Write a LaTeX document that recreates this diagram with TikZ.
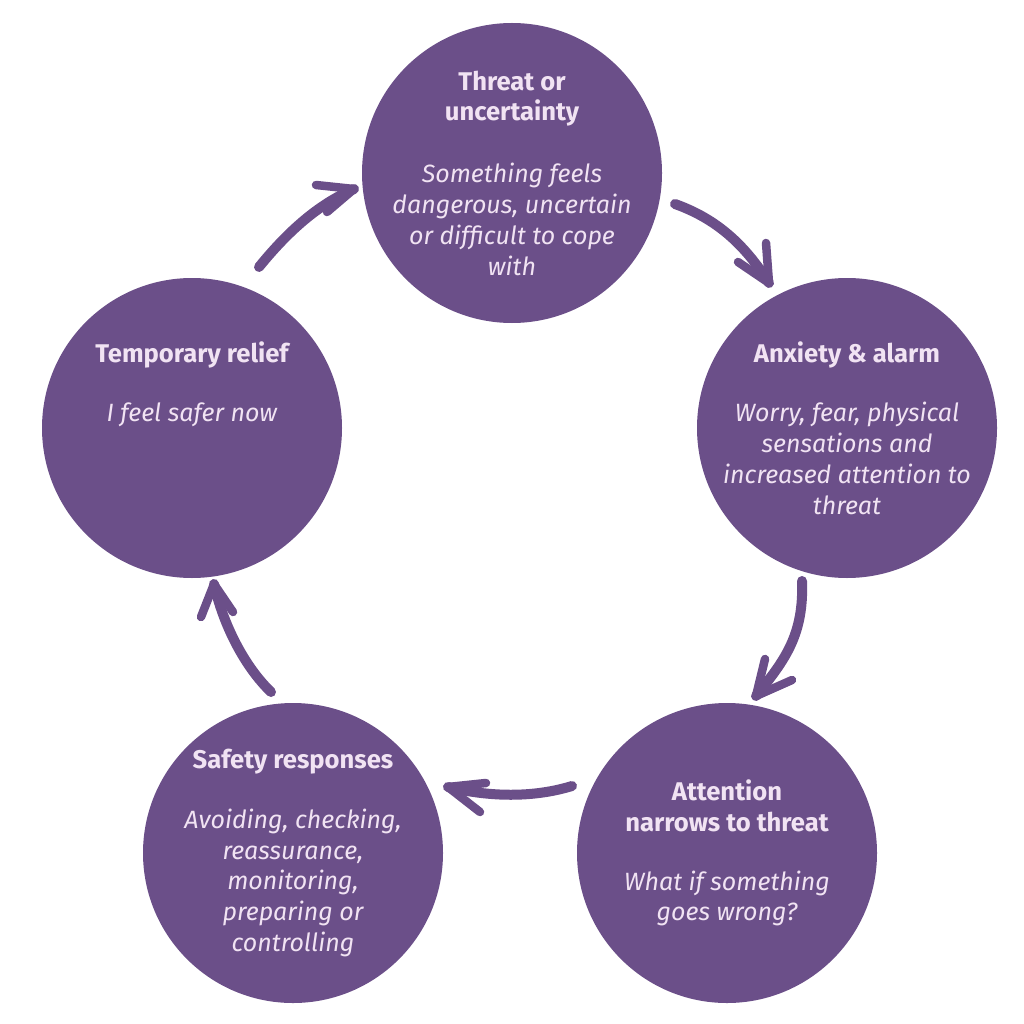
\documentclass[tikz,border=0pt]{standalone}
\usepackage{fontspec}
\setmainfont{Fira Sans}
\definecolor{cyc}{HTML}{6B4F89}
\definecolor{txt}{HTML}{F1E3F3}
\newcommand{\ttl}[1]{{\fontsize{25.6}{30.8}\selectfont\upshape\bfseries #1}}
\begin{document}
\begin{tikzpicture}[x=1pt,y=-1pt,
  stage/.style={circle,fill=cyc,draw=none,minimum size=300pt,inner sep=0pt},
  label/.style={text=txt,align=center,font=\fontsize{25}{30.8}\selectfont\itshape,inner sep=0pt},
  shaft/.style={draw=cyc,line width=10pt,line cap=round},
  barb/.style={draw=cyc,line width=8.5pt,line cap=round,line join=round}]
\useasboundingbox (0,0) rectangle (1024,1024);
\node[stage] (c1) at (512,173) {};
\node[stage] (c2) at (847,428) {};
\node[stage] (c3) at (727,853) {};
\node[stage] (c4) at (293,853) {};
\node[stage] (c5) at (192,428) {};
\node[label] (t1) at (512,173) {\ttl{Threat or}\\\ttl{uncertainty}\\[31pt]Something feels\\dangerous, uncertain\\or difficult to cope\\with};
\node[label] (t2) at (847,428) {\ttl{Anxiety \& alarm}\\[29pt]Worry, fear, physical\\sensations and\\increased attention to\\threat};
\node[label] (t3) at (727,853) {\ttl{Attention}\\\ttl{narrows to threat}\\[28pt]What if something\\goes wrong?};
\node[label] (t4) at (293,853) {\ttl{Safety responses}\\[29pt]Avoiding, checking,\\reassurance,\\monitoring,\\preparing or\\controlling};
\node[label] (t5) at (192,384) {\ttl{Temporary relief}\\[28pt]I feel safer now};
% arrow 1
\coordinate (a1s) at (675,204); \coordinate (a1p) at (717,219); \coordinate (a1q) at (745,245); \coordinate (a1t) at (769,283);
\coordinate (a1l) at (766,243); \coordinate (a1r) at (738,262);
\draw[shaft] (a1s) .. controls (a1p) and (a1q) .. (a1t);
\draw[barb] (a1l) -- (a1t) -- (a1r);
% arrow 2
\coordinate (a2s) at (802,581); \coordinate (a2p) at (804,635); \coordinate (a2q) at (785,660); \coordinate (a2t) at (756,696);
\coordinate (a2l) at (765,659); \coordinate (a2r) at (792,680);
\draw[shaft] (a2s) .. controls (a2p) and (a2q) .. (a2t);
\draw[barb] (a2l) -- (a2t) -- (a2r);
% arrow 3
\coordinate (a3s) at (572,786); \coordinate (a3p) at (533,798); \coordinate (a3q) at (489,797); \coordinate (a3t) at (448,787);
\coordinate (a3l) at (486,783); \coordinate (a3r) at (480,812);
\draw[shaft] (a3s) .. controls (a3p) and (a3q) .. (a3t);
\draw[barb] (a3l) -- (a3t) -- (a3r);
% arrow 4
\coordinate (a4s) at (271,692); \coordinate (a4p) at (244,666); \coordinate (a4q) at (223,624); \coordinate (a4t) at (214,584);
\coordinate (a4l) at (201,617); \coordinate (a4r) at (233,612);
\draw[shaft] (a4s) .. controls (a4p) and (a4q) .. (a4t);
\draw[barb] (a4l) -- (a4t) -- (a4r);
% arrow 5
\coordinate (a5s) at (259,267); \coordinate (a5p) at (285,235); \coordinate (a5q) at (316,205); \coordinate (a5t) at (354,189);
\coordinate (a5l) at (316,185); \coordinate (a5r) at (327,212);
\draw[shaft] (a5s) .. controls (a5p) and (a5q) .. (a5t);
\draw[barb] (a5l) -- (a5t) -- (a5r);
\end{tikzpicture}
\end{document}
